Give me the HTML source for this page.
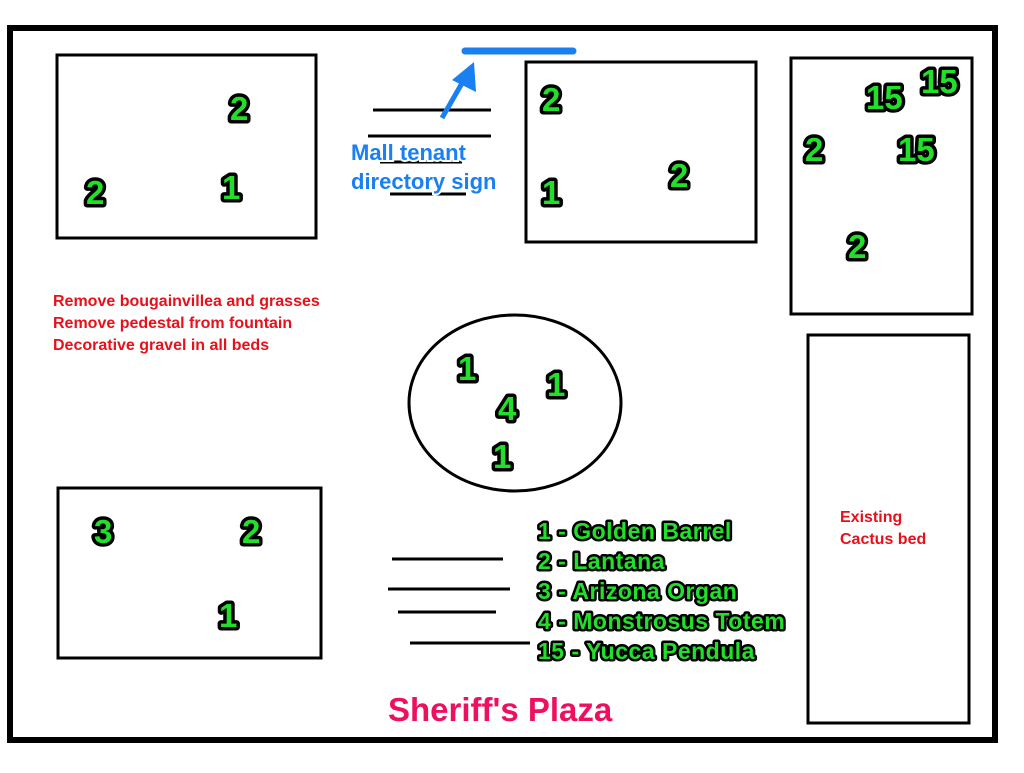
<!DOCTYPE html>
<html><head><style>html,body{margin:0;padding:0;background:#fff}</style></head><body>
<svg width="1024" height="768" xmlns="http://www.w3.org/2000/svg" font-family="Liberation Sans, sans-serif" font-weight="bold">
<rect width="1024" height="768" fill="#fff"/>
<rect x="10" y="28" width="985" height="712" fill="none" stroke="#000" stroke-width="6"/>
<g fill="none" stroke="#000" stroke-width="3">
<rect x="57" y="55" width="259" height="183"/>
<rect x="526" y="62" width="230" height="180"/>
<rect x="791" y="58" width="181" height="256"/>
<rect x="808" y="335" width="161" height="388"/>
<rect x="58" y="488" width="263" height="170"/>
<ellipse cx="515" cy="403" rx="106" ry="88"/>
<line x1="373" y1="110" x2="491" y2="110"/>
<line x1="368" y1="136" x2="491" y2="136"/>
<line x1="380" y1="162" x2="462" y2="162"/>
<line x1="390" y1="194" x2="466" y2="194"/>
<line x1="392" y1="559" x2="503" y2="559"/>
<line x1="388" y1="589" x2="510" y2="589"/>
<line x1="398" y1="612" x2="496" y2="612"/>
<line x1="410" y1="643" x2="530" y2="643"/>
</g>
<line x1="465" y1="51" x2="573" y2="51" stroke="#1a7ff0" stroke-width="7" stroke-linecap="round"/>
<line x1="442" y1="118" x2="465" y2="78" stroke="#1a7ff0" stroke-width="5"/>
<polygon points="474,62 476,92 452,80" fill="#1a7ff0"/>
<g font-size="22" fill="#1a7ff0" stroke="#fff" stroke-width="4" paint-order="stroke">
<text x="351" y="160">Mall tenant</text>
<text x="351" y="189">directory sign</text>
</g>
<g font-size="16" fill="#e8101a" stroke="#fff" stroke-width="2" paint-order="stroke">
<text x="53" y="306">Remove bougainvillea and grasses</text>
<text x="53" y="328">Remove pedestal from fountain</text>
<text x="53" y="350">Decorative gravel in all beds</text>
<text x="840" y="522">Existing</text>
<text x="840" y="544">Cactus bed</text>
</g>
<g font-size="33" fill="#22e02a" stroke="#000" stroke-width="7" paint-order="stroke" stroke-linejoin="round">
<text x="230" y="120">2</text>
<text x="86" y="204">2</text>
<text x="222" y="199">1</text>
<text x="542" y="111">2</text>
<text x="542" y="204">1</text>
<text x="670" y="187">2</text>
<text x="866" y="109">15</text>
<text x="921" y="93">15</text>
<text x="805" y="161">2</text>
<text x="898" y="161">15</text>
<text x="848" y="258">2</text>
<text x="458" y="380">1</text>
<text x="547" y="396">1</text>
<text x="498" y="420">4</text>
<text x="493" y="468">1</text>
<text x="94" y="543">3</text>
<text x="242" y="543">2</text>
<text x="219" y="627">1</text>
</g>
<g font-size="23" fill="#22e02a" stroke="#000" stroke-width="5" paint-order="stroke" stroke-linejoin="round" letter-spacing="0.5">
<text x="538" y="539">1 - Golden Barrel</text>
<text x="538" y="569">2 - Lantana</text>
<text x="538" y="599">3 - Arizona Organ</text>
<text x="538" y="629">4 - Monstrosus Totem</text>
<text x="538" y="659">15 - Yucca Pendula</text>
</g>
<text x="388" y="721" font-size="33" fill="#ee1060" stroke="#fff" stroke-width="3" paint-order="stroke">Sheriff's Plaza</text>
</svg>
</body></html>
